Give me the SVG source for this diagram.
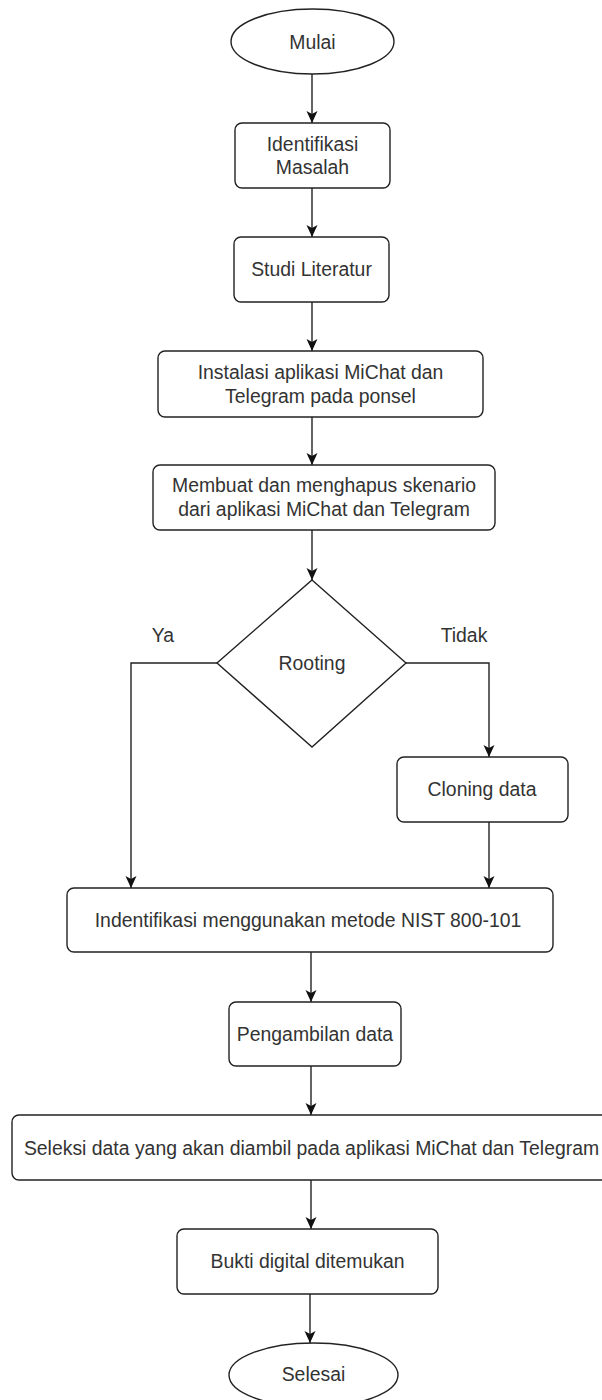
<svg xmlns="http://www.w3.org/2000/svg" width="602" height="1400" viewBox="0 0 602 1400">
<defs>
<style>
.shape{fill:#ffffff;stroke:#222222;stroke-width:1.4}
.lbl{font-family:"Liberation Sans",Arial,sans-serif;font-size:19.4px;fill:#333333;text-anchor:middle;dominant-baseline:central}
.edge{fill:none;stroke:#222222;stroke-width:1.4}
</style>
<marker id="arr" viewBox="0 0 12 12" refX="12" refY="6" markerWidth="12" markerHeight="12" markerUnits="userSpaceOnUse" orient="auto">
<path d="M0,0.5 L12,6 L0,11.5 L3,6 Z" fill="#111111"/>
</marker>
</defs>
<rect width="602" height="1400" fill="#ffffff"/>
<g id="connectors">
<line class="edge" x1="312" y1="74" x2="312" y2="123" marker-end="url(#arr)"/>
<line class="edge" x1="312" y1="188" x2="312" y2="237" marker-end="url(#arr)"/>
<line class="edge" x1="312" y1="302" x2="312" y2="351" marker-end="url(#arr)"/>
<line class="edge" x1="312" y1="417" x2="312" y2="465" marker-end="url(#arr)"/>
<line class="edge" x1="312" y1="530" x2="312" y2="580" marker-end="url(#arr)"/>
<polyline class="edge" points="217,663 131,663 131,888" marker-end="url(#arr)"/>
<polyline class="edge" points="406,663 489,663 489,757" marker-end="url(#arr)"/>
<line class="edge" x1="489" y1="822" x2="489" y2="888" marker-end="url(#arr)"/>
<line class="edge" x1="311" y1="952" x2="311" y2="1002" marker-end="url(#arr)"/>
<line class="edge" x1="311" y1="1066" x2="311" y2="1115" marker-end="url(#arr)"/>
<line class="edge" x1="311" y1="1180" x2="311" y2="1229" marker-end="url(#arr)"/>
<line class="edge" x1="310" y1="1294" x2="310" y2="1343" marker-end="url(#arr)"/>
<text class="lbl" x="163" y="635">Ya</text>
<text class="lbl" x="464" y="635">Tidak</text>
</g>
<g id="mulai">
<ellipse class="shape" cx="312.5" cy="41.5" rx="81.5" ry="32.5"/>
<text class="lbl" x="312.5" y="41.5">Mulai</text>
</g>
<g id="identifikasi-masalah">
<rect class="shape" x="235" y="123" width="155" height="65" rx="7"/>
<text class="lbl" x="312.5" y="144">Identifikasi</text>
<text class="lbl" x="312.5" y="167">Masalah</text>
</g>
<g id="studi-literatur">
<rect class="shape" x="234" y="237" width="155" height="65" rx="7"/>
<text class="lbl" x="311.5" y="269">Studi Literatur</text>
</g>
<g id="instalasi">
<rect class="shape" x="158" y="351" width="325" height="66" rx="7"/>
<text class="lbl" x="320.5" y="372">Instalasi aplikasi MiChat dan</text>
<text class="lbl" x="320.5" y="396">Telegram pada ponsel</text>
</g>
<g id="membuat">
<rect class="shape" x="153" y="465" width="342" height="65" rx="7"/>
<text class="lbl" x="324" y="485">Membuat dan menghapus skenario</text>
<text class="lbl" x="324" y="509">dari aplikasi MiChat dan Telegram</text>
</g>
<g id="rooting">
<polygon class="shape" points="312,580 406,663 312,747 217,663"/>
<text class="lbl" x="312" y="663">Rooting</text>
</g>
<g id="cloning">
<rect class="shape" x="397" y="757" width="171" height="65" rx="7"/>
<text class="lbl" x="482" y="789">Cloning data</text>
</g>
<g id="indentifikasi-nist">
<rect class="shape" x="67" y="888" width="486" height="64" rx="7"/>
<text class="lbl" x="308" y="920">Indentifikasi menggunakan metode NIST 800-101</text>
</g>
<g id="pengambilan">
<rect class="shape" x="229" y="1002" width="172" height="64" rx="7"/>
<text class="lbl" x="315" y="1034">Pengambilan data</text>
</g>
<g id="seleksi">
<rect class="shape" x="12" y="1115" width="600" height="65" rx="7"/>
<text class="lbl" x="311.5" y="1148">Seleksi data yang akan diambil pada aplikasi MiChat dan Telegram</text>
</g>
<g id="bukti">
<rect class="shape" x="177" y="1229" width="261" height="65" rx="7"/>
<text class="lbl" x="307.5" y="1261">Bukti digital ditemukan</text>
</g>
<g id="selesai">
<ellipse class="shape" cx="313.5" cy="1375" rx="84.5" ry="32"/>
<text class="lbl" x="313.5" y="1374">Selesai</text>
</g>
</svg>
